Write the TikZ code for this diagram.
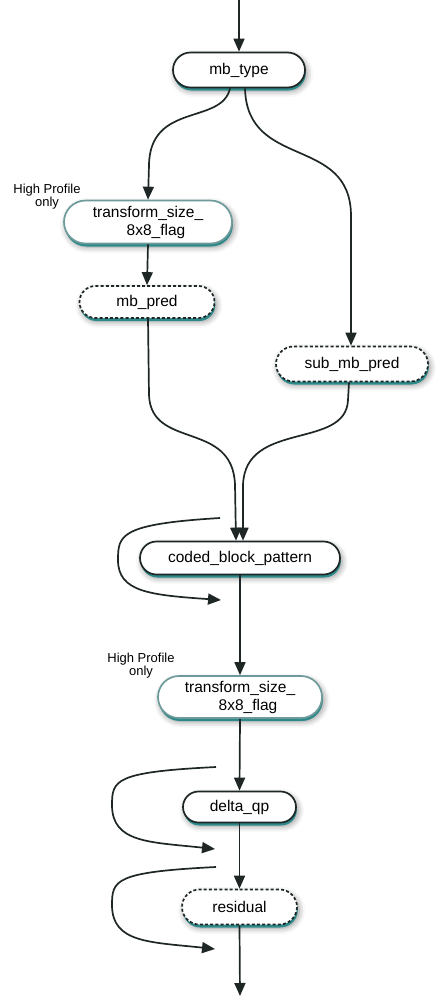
\documentclass[tikz,border=0pt]{standalone}
\usepackage{fontspec}
\setmainfont{Liberation Sans}
\usetikzlibrary{shapes.misc,shadows,shadows.blur,arrows.meta,calc}
\definecolor{ln}{HTML}{1E2626}
\definecolor{tl}{HTML}{2E8A8A}
\definecolor{tb}{HTML}{6E9A9A}
\tikzset{
  box/.style={rounded rectangle, draw=ln, line width=1.7pt, fill=white,
    font=\fontsize{15.5}{18}\selectfont, inner sep=0pt, align=center,
    blur shadow={shadow xshift=2pt, shadow yshift=-3.5pt, shadow blur radius=6pt, shadow opacity=45},
    general shadow={fill=tl, shadow xshift=0.8pt, shadow yshift=-3pt}},
  dbox/.style={box, dash pattern=on 3pt off 2.2pt},
  tbox/.style={box, draw=tb},
  arr/.style={draw=ln, line width=1.7pt, -{Triangle[length=13pt,width=11pt]}},
  lbl/.style={font=\fontsize{13}{13}\selectfont, align=center, inner sep=0pt}
}
\begin{document}
\begin{tikzpicture}[x=1pt,y=-1pt]
\useasboundingbox (0,0) rectangle (445,1002);
% nodes
\node[box, minimum width=132pt, minimum height=35pt] (mbt) at (239,70) {mb\_type};
\node[tbox, minimum width=168pt, minimum height=43pt] (tf1) at (148,222) {transform\_size\_\\\hspace{16pt}8x8\_flag};
\node[dbox, minimum width=135pt, minimum height=32pt] (mbp) at (147,302) {mb\_pred};
\node[dbox, minimum width=152pt, minimum height=35pt] (smp) at (352,364) {sub\_mb\_pred};
\node[box, minimum width=200pt, minimum height=33pt] (cbp) at (240,558) {coded\_block\_pattern};
\node[tbox, minimum width=164pt, minimum height=42pt] (tf2) at (240,697) {transform\_size\_\\\hspace{16pt}8x8\_flag};
\node[box, minimum width=113pt, minimum height=31pt] (dqp) at (239.5,807) {delta\_qp};
\node[dbox, minimum width=115pt, minimum height=35pt] (res) at (239.5,907) {residual};
% labels
\node[lbl] (hp1) at (47,197) {High Profile\\only};
\node[lbl] (hp2) at (141,666) {High Profile\\only};
% coordinates
\coordinate (top) at (239,0);
\coordinate (bot) at (240,996);
\coordinate (l1s) at (220,518);
\coordinate (l1e) at (221,600);
\coordinate (l2s) at (216,767);
\coordinate (l2e) at (215,849);
\coordinate (l3s) at (216,867);
\coordinate (l3e) at (215,949);
% connectors
\draw[arr] (top) -- (mbt.north);
\draw[arr] ($(mbt.south)+(-9,0)$) .. controls (222,125) and (150,102) .. (149,165) -- (tf1.north);
\draw[arr] ($(mbt.south)+(6,0)$) .. controls (247,170) and (350,135) .. (351,215) -- ($(smp.north)+(-1,0)$);
\draw[arr] (tf1.south) -- (mbp.north);
\draw[arr] ($(mbp.south)+(1,0)$) -- (149,395) .. controls (151,450) and (233,420) .. (235,485) -- ($(cbp.north)+(-4,0)$);
\draw[arr] ($(smp.south)+(-3,0)$) -- (348,400) .. controls (346,450) and (245,420) .. (243,485) -- ($(cbp.north)+(3,0)$);
\draw[arr] (l1s) .. controls (120,524) and (118,535) .. (118,560) .. controls (118,592) and (150,595) .. (l1e);
\draw[arr] (cbp.south) -- (tf2.north);
\draw[arr] (tf2.south) -- (dqp.north);
\draw[arr] (l2s) .. controls (115,772) and (112,780) .. (112,805) .. controls (112,843) and (150,842) .. (l2e);
\draw[arr] (dqp.south) -- (res.north);
\draw[arr] (l3s) .. controls (115,872) and (112,880) .. (112,905) .. controls (112,943) and (150,942) .. (l3e);
\draw[arr] (res.south) -- (bot);
\end{tikzpicture}
\end{document}
